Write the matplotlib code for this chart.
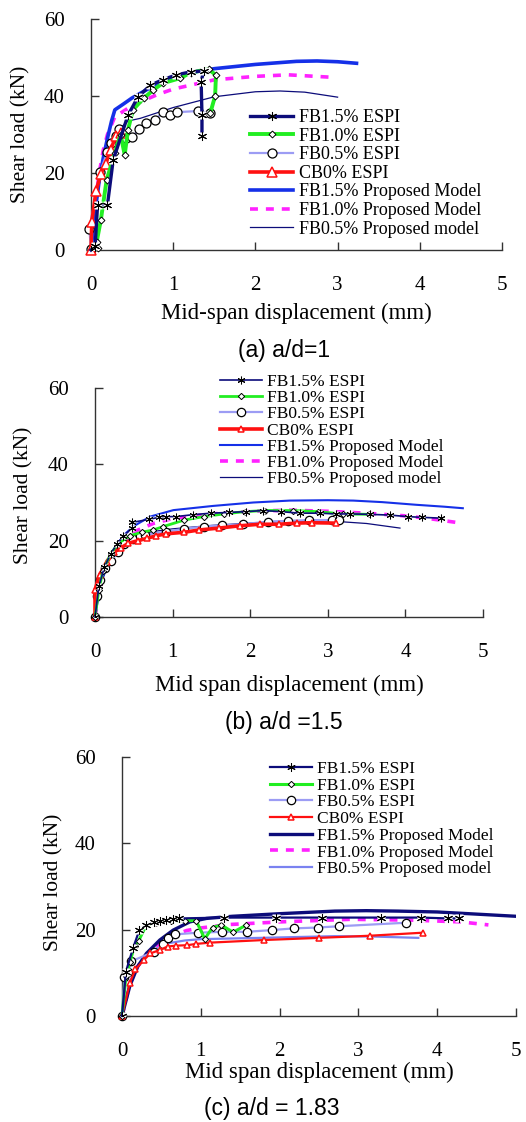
import matplotlib
matplotlib.use("Agg")
import matplotlib.pyplot as plt
import matplotlib.lines as mlines

W, H = 526, 1122

LABELS = ["FB1.5% ESPI", "FB1.0% ESPI", "FB0.5% ESPI", "CB0% ESPI",
          "FB1.5% Proposed Model", "FB1.0% Proposed Model", "FB0.5% Proposed model"]
X_TICKS = [0, 1, 2, 3, 4, 5]
Y_TICKS = [0, 20, 40, 60]

# ---- panel (a) a/d=1 ----
A_FB15_ESPI_X = [0.0, 0.05, 0.08, 0.20, 0.27, 0.45, 0.57, 0.72, 0.87, 1.04, 1.22, 1.37, 1.34, 1.35, 1.35]
A_FB15_ESPI_Y = [0.0, 1.0, 11.7, 11.7, 23.4, 35.0, 39.7, 42.8, 44.2, 45.5, 46.3, 46.5, 43.7, 35.0, 29.5]
A_FB10_ESPI_X = [0.08, 0.07, 0.12, 0.19, 0.29, 0.36, 0.41, 0.45, 0.51, 0.64, 0.76, 0.87, 1.08, 1.22, 1.43, 1.52, 1.51, 1.45]
A_FB10_ESPI_Y = [0.5, 2.2, 7.8, 18.2, 25.2, 30.0, 24.7, 31.2, 36.4, 39.4, 41.6, 43.3, 44.6, 46.1, 47.0, 45.4, 40.0, 35.5]
A_FB05_ESPI_X = [0.0, -0.02, 0.11, 0.20, 0.24, 0.30, 0.34, 0.43, 0.50, 0.59, 0.67, 0.78, 0.87, 0.96, 1.05, 1.30, 1.45]
A_FB05_ESPI_Y = [0.2, 5.4, 20.3, 25.5, 27.7, 29.5, 31.3, 29.0, 29.4, 31.4, 32.9, 33.8, 35.8, 35.1, 35.8, 36.1, 35.5]
A_CB0_ESPI_X = [0.0, 0.01, 0.06, 0.12, 0.18, 0.24, 0.30, 0.37]
A_CB0_ESPI_Y = [0.0, 7.4, 15.2, 19.8, 22.4, 26.0, 29.5, 30.5]
A_FB15_MODEL_X = [0, 0.05, 0.1, 0.15, 0.2, 0.25, 0.29, 0.4, 0.5, 0.75, 1.0, 1.25, 1.5, 2.0, 2.5, 2.75, 3.0, 3.23]
A_FB15_MODEL_Y = [0, 10, 18, 24, 29, 33.5, 36.4, 38, 39.5, 42.5, 44.8, 46.2, 47.1, 48.2, 49.0, 49.1, 48.9, 48.5]
A_FB10_MODEL_X = [0, 0.05, 0.1, 0.15, 0.2, 0.29, 0.5, 0.8, 1.0, 1.5, 2.0, 2.4, 2.9]
A_FB10_MODEL_Y = [0, 12, 20, 26, 30, 34.6, 37.5, 40.3, 41.8, 44.2, 45.1, 45.5, 44.9]
A_FB05_MODEL_X = [0, 0.05, 0.1, 0.2, 0.3, 0.45, 0.6, 1.0, 1.5, 2.0, 2.3, 2.6, 3.0]
A_FB05_MODEL_Y = [0, 9, 17, 26, 30.5, 33.5, 34.2, 37.0, 39.8, 41.1, 41.3, 41.0, 39.7]

# ---- panel (b) a/d=1.5 ----
B_FB15_ESPI_X = [0, 0.05, 0.12, 0.2, 0.28, 0.36, 0.48, 0.48, 0.7, 0.82, 0.92, 1.04, 1.26, 1.49, 1.73, 1.94, 2.17,
                 2.4, 2.64, 2.9, 3.11, 3.29, 3.54, 3.8, 4.03, 4.22, 4.46]
B_FB15_ESPI_Y = [0, 8, 13, 16.5, 19, 21.1, 23.3, 24.8, 25.6, 26.1, 26.3, 26.3, 26.8, 27.2, 27.4, 27.6, 27.9,
                 27.6, 27.2, 27.2, 27.0, 27.0, 26.9, 26.7, 26.3, 26.1, 25.9]
B_FB10_ESPI_X = [0, 0.05, 0.1, 0.2, 0.3, 0.45, 0.6, 0.75, 0.88, 1.15, 1.40, 1.66, 1.93, 2.19, 2.55, 2.88, 3.19, 3.53]
B_FB10_ESPI_Y = [0, 7, 12, 16.5, 19.3, 21.3, 22.2, 22.8, 23.7, 25.4, 26.3, 27.0, 27.6, 27.9, 27.9, 27.6, 27.0, 26.9]
B_FB05_ESPI_X = [0, 0.03, 0.06, 0.13, 0.21, 0.29, 0.38, 0.49, 0.58, 0.65, 0.91, 1.15, 1.40, 1.64, 1.91, 2.23,
                 2.49, 2.76, 3.05, 3.15]
B_FB05_ESPI_Y = [0, 5.4, 9.8, 12.8, 14.7, 16.9, 19.0, 20.5, 21.1, 21.5, 22.4, 23.1, 23.7, 24.0, 24.3, 25.0,
                 25.2, 25.4, 25.4, 25.4]
B_CB0_ESPI_X = [0, 0, 0.06, 0.15, 0.24, 0.34, 0.43, 0.55, 0.67, 0.79, 0.92, 1.15, 1.34, 1.6, 1.87, 2.12, 2.37,
                2.6, 2.8, 3.1]
B_CB0_ESPI_Y = [0, 7.1, 11.1, 14.3, 16.9, 18.2, 19.3, 20.0, 20.6, 21.3, 21.8, 22.2, 22.8, 23.3, 23.9, 24.3, 24.3,
                24.6, 24.7, 24.6]
B_FB15_MODEL_X = [0, 0.05, 0.1, 0.2, 0.3, 0.4, 0.5, 0.71, 1.01, 1.52, 2.04, 2.51, 3.0, 3.33, 3.7, 4.14, 4.5, 4.74]
B_FB15_MODEL_Y = [0, 6, 10.5, 16, 19.5, 22, 23.8, 26.3, 28.0, 29.1, 30.0, 30.5, 30.6, 30.5, 30.1, 29.4, 28.9, 28.5]
B_FB10_MODEL_X = [0, 0.05, 0.1, 0.2, 0.3, 0.5, 0.75, 1.0, 1.5, 2.0, 2.5, 3.0, 3.5, 4.0, 4.3, 4.65]
B_FB10_MODEL_Y = [0, 6, 10, 15, 18.5, 22.3, 24.5, 25.8, 27.0, 27.7, 28.0, 27.7, 27.2, 26.5, 25.8, 24.8]
B_FB05_MODEL_X = [0, 0.05, 0.1, 0.2, 0.3, 0.5, 0.75, 1.0, 1.5, 2.0, 2.5, 3.0, 3.5, 3.93]
B_FB05_MODEL_Y = [0, 6, 10, 15, 18, 21.2, 22.4, 23.1, 24.0, 24.6, 25.1, 25.2, 24.5, 23.3]

# ---- panel (c) a/d=1.83 ----
C_FB15_ESPI_X = [0, 0.05, 0.14, 0.22, 0.31, 0.41, 0.48, 0.56, 0.65, 0.72, 1.29, 1.95, 2.54, 3.29, 3.80, 4.14, 4.28]
C_FB15_ESPI_Y = [0, 10.3, 15.7, 19.9, 21.1, 21.8, 22.0, 22.2, 22.4, 22.6, 22.8, 22.8, 22.8, 22.8, 22.8, 22.6, 22.6]
C_FB10_ESPI_X = [0, 0.05, 0.1, 0.16, 0.21, 0.31, 0.43, 0.52, 0.62, 0.80, 0.94, 1.05, 1.15, 1.26, 1.41, 1.57]
C_FB10_ESPI_Y = [0, 9.2, 12.5, 16.3, 17.4, 21.1, 21.5, 21.9, 22.0, 22.1, 22.1, 17.9, 20.5, 21.1, 19.4, 21.0]
C_FB05_ESPI_X = [0, 0.03, 0.08, 0.12, 0.41, 0.52, 0.58, 0.67, 0.96, 1.27, 1.58, 1.90, 2.18, 2.49, 2.76, 3.60]
C_FB05_ESPI_Y = [0, 9.1, 10.1, 12.7, 14.9, 16.7, 18.1, 18.9, 19.3, 19.5, 19.5, 19.9, 20.3, 20.5, 20.8, 21.6]
C_CB0_ESPI_X = [0, 0.1, 0.17, 0.28, 0.36, 0.48, 0.58, 0.69, 0.83, 0.94, 1.12, 1.80, 2.50, 3.15, 3.82]
C_CB0_ESPI_Y = [0, 7.7, 10.8, 13.0, 14.5, 15.3, 16.1, 16.3, 16.4, 16.7, 17.0, 17.6, 18.1, 18.6, 19.3]
C_FB15_MODEL_X = [0, 0.05, 0.1, 0.2, 0.31, 0.48, 0.65, 0.86, 1.07, 1.4, 2.0, 2.7, 3.1, 3.5, 4.0, 4.5, 5.0]
C_FB15_MODEL_Y = [0, 3.5, 7, 11.5, 14.5, 17.6, 19.9, 21.8, 22.6, 23.1, 23.7, 24.3, 24.4, 24.3, 24.1, 23.6, 23.1]
C_FB10_MODEL_X = [0, 0.1, 0.2, 0.3, 0.45, 0.6, 0.82, 1.0, 1.37, 2.0, 2.9, 3.7, 4.3, 4.65]
C_FB10_MODEL_Y = [0, 7.5, 11.5, 14, 16.5, 18.3, 19.8, 20.4, 21.2, 21.8, 22.4, 22.2, 21.8, 21.1]
C_FB05_MODEL_X = [0, 0.05, 0.1, 0.2, 0.3, 0.45, 0.6, 0.8, 1.0, 1.5, 2.0, 2.7, 3.2, 3.76]
C_FB05_MODEL_Y = [0, 4, 8, 11.5, 13.8, 15.8, 16.9, 17.5, 17.8, 18.0, 18.2, 18.5, 18.4, 18.1]

NAVY = "#0c0c7a"
GREEN = "#22ee22"
LAVENDER = "#9c9cf4"
RED = "#ff1010"
BLUE = "#1530e8"
MAGENTA = "#ff22ff"
LIGHTBLUE = "#7a82f0"

SERIF = "Liberation Serif"
STAR = (6, 2, 0)

fig = plt.figure(figsize=(W / 100, H / 100), dpi=100)


def make_axes(left, right, top, bottom):
    # pixel box of the plotting area -> figure fraction
    ax = fig.add_axes([left / W, 1 - bottom / H, (right - left) / W, (bottom - top) / H])
    ax.set_xlim(0, 5)
    ax.set_ylim(0, 60)
    ax.set_xticks(X_TICKS)
    ax.set_yticks(Y_TICKS)
    for s in ["top", "right"]:
        ax.spines[s].set_visible(False)
    for s in ["left", "bottom"]:
        ax.spines[s].set_linewidth(1.0)
        ax.spines[s].set_color("#333333")
    ax.tick_params(direction="in", length=6, width=1.0, color="#333333", pad=19,
                   labelsize=15)
    for t in ax.get_xticklabels() + ax.get_yticklabels():
        t.set_fontfamily(SERIF)
    return ax


def draw(ax, data, st):
    (x15, y15), (x10, y10), (x05, y05), (xc, yc), (m15x, m15y), (m10x, m10y), (m05x, m05y) = data
    m05, = ax.plot(m05x, m05y, color=st["m05c"], lw=st["m05w"], zorder=2)
    m10, = ax.plot(m10x, m10y, color=MAGENTA, lw=st["m10w"], ls=(0, (2.2, 2.2)), zorder=2)
    m15, = ax.plot(m15x, m15y, color=st["m15c"], lw=st["m15w"], zorder=2)
    l05, = ax.plot(x05, y05, color=LAVENDER, lw=st["e05w"], marker="o", ms=st["cms"], mfc="white",
                   mec="black", mew=0.9, zorder=3, clip_on=False)
    lc, = ax.plot(xc, yc, color=RED, lw=st["ecw"], marker="^", ms=st["tms"], mfc="white",
                  mec=RED, mew=1.1, zorder=4, clip_on=False)
    l10, = ax.plot(x10, y10, color=GREEN, lw=st["e10w"], marker="D", ms=st["dms"], mfc="white",
                   mec="black", mew=0.7, zorder=4, clip_on=False)
    l15, = ax.plot(x15, y15, color=NAVY, lw=st["e15w"], zorder=5, clip_on=False)
    # white box behind each asterisk, then the asterisk itself
    ax.plot(x15, y15, ls="none", marker="s", ms=st["sms"] * 0.85, mfc="white", mec="none", zorder=6)
    ax.plot(x15, y15, ls="none", marker=STAR, ms=st["sms"], mec="black", mew=0.75, zorder=7)
    return [l15, l10, l05, lc, m15, m10, m05]


def add_legend(ax, handles, fs, x, y, spacing, hl, star_ms):
    proxies = []
    for i, hd in enumerate(handles):
        p = mlines.Line2D([], [], color=hd.get_color(), lw=hd.get_linewidth(), ls=hd.get_linestyle(),
                          marker=hd.get_marker(), ms=hd.get_markersize(), mfc=hd.get_markerfacecolor(),
                          mec=hd.get_markeredgecolor(), mew=hd.get_markeredgewidth())
        if i == 0:
            p.set_marker(STAR)
            p.set_markersize(star_ms)
            p.set_markeredgecolor("black")
            p.set_markeredgewidth(0.75)
        if i == 5:
            p.set_dashes((2.2, 2.2))
        proxies.append(p)
    ax.legend(proxies, LABELS, loc="upper left", bbox_to_anchor=(x, y), frameon=False,
              prop={"family": SERIF, "size": fs}, labelspacing=spacing, handlelength=hl,
              handletextpad=0.3, borderpad=0, borderaxespad=0)


def labels(ax, xlabel, xl_pos, ylab_pos):
    ax.set_xlabel(xlabel, fontfamily=SERIF, fontsize=16.5, va="center")
    ax.xaxis.set_label_coords(*xl_pos)
    ax.set_ylabel("Shear load (kN)", fontfamily=SERIF, fontsize=15.5, va="center")
    ax.yaxis.set_label_coords(*ylab_pos)


# (a)
ax_a = make_axes(91, 502, 19, 250)
hs = draw(ax_a, [(A_FB15_ESPI_X, A_FB15_ESPI_Y), (A_FB10_ESPI_X, A_FB10_ESPI_Y), (A_FB05_ESPI_X, A_FB05_ESPI_Y),
                 (A_CB0_ESPI_X, A_CB0_ESPI_Y), (A_FB15_MODEL_X, A_FB15_MODEL_Y), (A_FB10_MODEL_X, A_FB10_MODEL_Y),
                 (A_FB05_MODEL_X, A_FB05_MODEL_Y)],
          dict(m05c=NAVY, m05w=0.9, m10w=2.6, m15c=BLUE, m15w=2.6, e05w=1.6, cms=6.5, ecw=2.6, tms=7.5,
               e10w=2.8, dms=3.5, e15w=2.4, sms=6.5))
add_legend(ax_a, hs, 13, (250 - 91) / 411, (250 - 109) / 231, 0.09, 2.4, 6.5)
labels(ax_a, "Mid-span displacement (mm)", (0.5, (250 - 313) / 231), ((21 - 91) / 411, 0.5))
fig.text(284 / W, 1 - 350 / H, "(a) a/d=1", fontfamily="Liberation Sans", fontsize=16.5, ha="center", va="center")

# (b)
ax_b = make_axes(95, 483, 388, 617)
hs = draw(ax_b, [(B_FB15_ESPI_X, B_FB15_ESPI_Y), (B_FB10_ESPI_X, B_FB10_ESPI_Y), (B_FB05_ESPI_X, B_FB05_ESPI_Y),
                 (B_CB0_ESPI_X, B_CB0_ESPI_Y), (B_FB15_MODEL_X, B_FB15_MODEL_Y), (B_FB10_MODEL_X, B_FB10_MODEL_Y),
                 (B_FB05_MODEL_X, B_FB05_MODEL_Y)],
          dict(m05c=NAVY, m05w=0.9, m10w=2.6, m15c=BLUE, m15w=1.5, e05w=1.6, cms=6, ecw=2.6, tms=5,
               e10w=2.0, dms=3.2, e15w=1.2, sms=5.5))
add_legend(ax_b, hs, 12.5, (220 - 95) / 388, (617 - 374) / 229, 0.0, 2.4, 5.5)
labels(ax_b, "Mid span displacement (mm)", ((289 - 95) / 388, (617 - 685) / 229), ((24 - 95) / 388, (617 - 495) / 229))
fig.text(284 / W, 1 - 723 / H, "(b) a/d =1.5", fontfamily="Liberation Sans", fontsize=16.5, ha="center", va="center")

# (c)
ax_c = make_axes(122, 516, 757, 1016)
hs = draw(ax_c, [(C_FB15_ESPI_X, C_FB15_ESPI_Y), (C_FB10_ESPI_X, C_FB10_ESPI_Y), (C_FB05_ESPI_X, C_FB05_ESPI_Y),
                 (C_CB0_ESPI_X, C_CB0_ESPI_Y), (C_FB15_MODEL_X, C_FB15_MODEL_Y), (C_FB10_MODEL_X, C_FB10_MODEL_Y),
                 (C_FB05_MODEL_X, C_FB05_MODEL_Y)],
          dict(m05c=LIGHTBLUE, m05w=1.6, m10w=2.6, m15c=NAVY, m15w=2.4, e05w=1.6, cms=6, ecw=1.6, tms=5,
               e10w=2.2, dms=3.2, e15w=1.6, sms=6.5))
add_legend(ax_c, hs, 12.5, (270 - 122) / 394, (1016 - 761) / 259, 0.03, 2.4, 6)
labels(ax_c, "Mid span displacement (mm)", ((319 - 122) / 394, (1016 - 1072) / 259), ((54 - 122) / 394, (1016 - 882) / 259))
fig.text(272 / W, 1 - 1108 / H, "(c) a/d = 1.83", fontfamily="Liberation Sans", fontsize=16.5, ha="center", va="center")

fig.savefig("out.png", dpi=100)
